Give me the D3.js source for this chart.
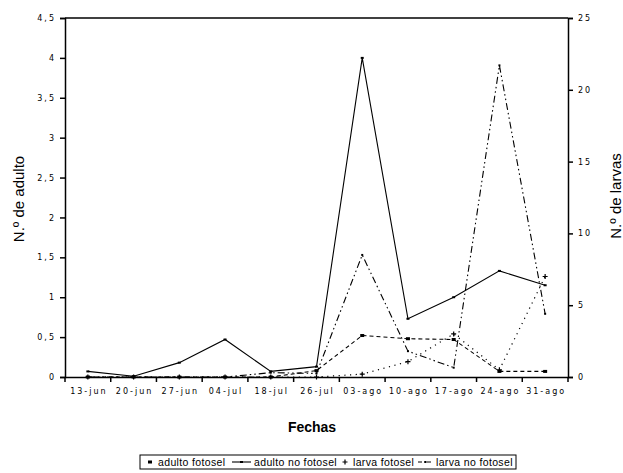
<!DOCTYPE html>
<html>
<head>
<meta charset="utf-8">
<script src="https://cdn.jsdelivr.net/npm/d3@7"></script>
<style>
  html, body { margin: 0; padding: 0; background: #fff; }
  svg { display: block; }
  .tick text { font-family: "DejaVu Sans", sans-serif; font-size: 8px; letter-spacing: 2px; fill: #000; }
</style>
</head>
<body>
<svg id="chart" width="623" height="473"></svg>
<script>
// Sampling dates
const categories = ["13-jun", "20-jun", "27-jun", "04-jul", "18-jul", "26-jul", "03-ago", "10-ago", "17-ago", "24-ago", "31-ago"];

// Adults (left axis)
const adultoFotosel   = [0, 0, 0, 0, 0, 0.08, 0.52, 0.48, 0.47, 0.07, 0.07];
const adultoNoFotosel = [0.07, 0.01, 0.18, 0.47, 0.07, 0.13, 4.0, 0.73, 1.0, 1.33, 1.15];

// Larvae (right axis)
const larvaFotosel   = [0, 0, 0, 0, 0, 0, 0.2, 1.07, 3.0, 0.5, 7.0];
const larvaNoFotosel = [0, 0, 0, 0, 0.3, 0.25, 8.5, 1.8, 0.65, 21.7, 4.4];

// Axis ticks
const leftTicks  = [0, 0.5, 1, 1.5, 2, 2.5, 3, 3.5, 4, 4.5];
const rightTicks = [0, 5, 10, 15, 20, 25];

const seriesNames = ["adulto fotosel", "adulto no fotosel", "larva fotosel", "larva no fotosel"];

const svg = d3.select("#chart");
const plotLeft = 65, plotRight = 568, plotTop = 18, plotBottom = 377;

const x = d3.scaleBand().domain(categories).range([plotLeft, plotRight]).padding(0);
const yL = d3.scaleLinear().domain([0, 4.5]).range([plotBottom, plotTop]);
const yR = d3.scaleLinear().domain([0, 25]).range([plotBottom, plotTop]);

const es = d3.formatLocale({decimal: ",", thousands: ".", grouping: [3], currency: ["", " €"]});
const fmt = es.format("~g");

const ink = "#000";

// Frame top line
svg.append("line")
  .attr("x1", plotLeft).attr("x2", plotRight).attr("y1", plotTop).attr("y2", plotTop)
  .attr("stroke", ink).attr("stroke-width", 1.5);

// Left axis
const gL = svg.append("g").attr("transform", `translate(${plotLeft},0)`)
  .call(d3.axisLeft(yL).tickValues(leftTicks).tickFormat(fmt).tickSize(5).tickPadding(6));
// Right axis
const gR = svg.append("g").attr("transform", `translate(${plotRight},0)`)
  .call(d3.axisRight(yR).tickValues(rightTicks).tickSize(5).tickPadding(5));
// Bottom axis: labels at band centres, ticks on band edges
const gB = svg.append("g").attr("transform", `translate(0,${plotBottom})`)
  .call(d3.axisBottom(x).tickSize(0).tickPadding(11));
gB.selectAll(".tick text").attr("dx", "1px");
const edges = categories.map(c => x(c)).concat([x.range()[1]]);
gB.selectAll("line.edge").data(edges).join("line")
  .attr("class", "edge")
  .attr("x1", d => d).attr("x2", d => d).attr("y1", 0).attr("y2", 5)
  .attr("stroke", ink).attr("stroke-width", 1.5);

[gL, gR, gB].forEach(g => {
  g.select(".domain").attr("stroke", ink).attr("stroke-width", 1.5);
  g.selectAll(".tick line").attr("stroke", ink).attr("stroke-width", 1.5);
  g.attr("font-family", null).attr("font-size", null);
});
gL.selectAll(".tick text").attr("dx", "2px");

// Series drawing
const cx = c => x(c) + x.bandwidth() / 2;
const pts = (vals, y) => vals.map((v, i) => [cx(categories[i]), y(v)]);
const lineGen = d3.line();

const series = [
  {name: seriesNames[0], pts: pts(adultoFotosel, yL),   dash: "4,3",              width: 1.1, marker: "square"},
  {name: seriesNames[1], pts: pts(adultoNoFotosel, yL), dash: null,               width: 1.1, marker: "small"},
  {name: seriesNames[2], pts: pts(larvaFotosel, yR),    dash: "1.2,4.5",          width: 1.2, marker: "plus"},
  {name: seriesNames[3], pts: pts(larvaNoFotosel, yR),  dash: "7,3,1.5,3,1.5,3",  width: 1.1, marker: "tick"}
];

function drawMarker(g, kind, px, py) {
  if (kind === "square") {
    g.append("rect").attr("x", px - 2).attr("y", py - 1.5).attr("width", 4).attr("height", 3).attr("fill", ink);
  } else if (kind === "small") {
    g.append("rect").attr("x", px - 1.5).attr("y", py - 1).attr("width", 3).attr("height", 2).attr("fill", ink);
  } else if (kind === "plus") {
    g.append("path").attr("d", `M${px - 2.5},${py}H${px + 2.5}M${px},${py - 2.5}V${py + 2.5}`)
      .attr("stroke", ink).attr("stroke-width", 1.2);
  } else if (kind === "tick") {
    g.append("rect").attr("x", px - 1).attr("y", py - 1).attr("width", 2).attr("height", 2).attr("fill", ink);
  }
}

series.forEach(s => {
  const g = svg.append("g");
  g.append("path").attr("d", lineGen(s.pts)).attr("fill", "none")
    .attr("stroke", ink).attr("stroke-width", s.width)
    .attr("stroke-dasharray", s.dash);
  s.pts.forEach(p => drawMarker(g, s.marker, p[0], p[1]));
});

// Axis titles
svg.append("text").attr("transform", "translate(24,199) rotate(-90)")
  .attr("text-anchor", "middle").attr("font-family", "Liberation Sans, Arial, sans-serif")
  .attr("font-size", 15).attr("fill", ink).text("N.º de adulto");
svg.append("text").attr("transform", "translate(621,196) rotate(-90)")
  .attr("text-anchor", "middle").attr("font-family", "Liberation Sans, Arial, sans-serif")
  .attr("font-size", 15).attr("fill", ink).text("N.º de larvas");
svg.append("text").attr("x", 312).attr("y", 432)
  .attr("text-anchor", "middle").attr("font-family", "Liberation Sans, Arial, sans-serif")
  .attr("font-size", 14).attr("font-weight", "bold").attr("fill", ink).text("Fechas");

// Legend
const lg = svg.append("g").attr("font-family", "Liberation Sans, Arial, sans-serif").attr("font-size", 10.5);
const lgTop = 455, lgH = 14, lgLeft = 140, lgRight = 516;
lg.append("rect").attr("x", lgLeft).attr("y", lgTop).attr("width", lgRight - lgLeft).attr("height", lgH)
  .attr("fill", "none").attr("stroke", ink).attr("stroke-width", 1);
const items = [
  {s: series[0], sx: 146, sw: 8,  tx: 158},
  {s: series[1], sx: 232, sw: 19, tx: 254},
  {s: series[2], sx: 341, sw: 8,  tx: 353},
  {s: series[3], sx: 418, sw: 15, tx: 436}
];
const ly = lgTop + lgH / 2;
items.forEach(it => {
  if (it.s.marker !== "square" && it.s.marker !== "plus") {
    lg.append("line").attr("x1", it.sx).attr("x2", it.sx + it.sw).attr("y1", ly).attr("y2", ly)
      .attr("stroke", ink).attr("stroke-width", 1.1).attr("stroke-dasharray", it.s.marker === "tick" ? "4,2,1,2" : null);
  }
  drawMarker(lg, it.s.marker, it.sx + it.sw / 2, ly);
  lg.append("text").attr("x", it.tx).attr("y", ly + 4).attr("letter-spacing", "0.35px").attr("fill", ink).text(it.s.name);
});
</script>
</body>
</html>
